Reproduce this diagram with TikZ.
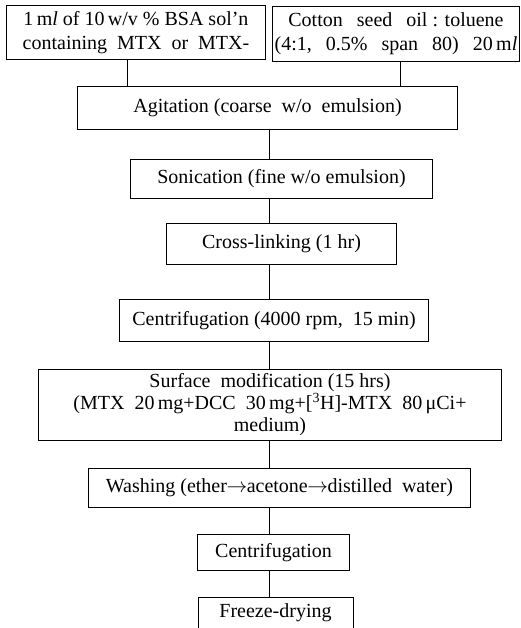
\documentclass[tikz,border=0pt]{standalone}
\usepackage{fontspec}
\setmainfont{Liberation Serif}
\newcommand\wsp{\hspace{0.5em}}
\newcommand\wwsp{\hspace{0.7em}}
\newcommand\rarr{\kern-0.5pt$\rightarrow$\kern-0.5pt}
\begin{document}
\begin{tikzpicture}[x=1pt,y=-1pt,
  box/.style={draw, line width=1pt, inner sep=0pt, align=center, anchor=north west,
    font=\fontsize{20}{24}\selectfont},
  openbox/.style={box, draw=none},
  link/.style={line width=0.9pt}]
\useasboundingbox (0,0) rectangle (521,628);
\node[box, minimum width=259pt, minimum height=54pt] (bsa) at (6,5)
  {1\,m\textit{l} of 10\,w/v \% BSA sol’n\\containing\wsp MTX\wsp or\wsp MTX-};
\node[box, minimum width=247pt, minimum height=55pt] (oil) at (272,6)
  {Cotton\wwsp seed\wwsp oil : toluene\\(4:1,\wwsp0.5\%\wwsp span\wwsp80)\wwsp20\,m\textit{l}};
\node[box, minimum width=380pt, minimum height=43pt] (agit) at (77,86)
  {Agitation (coarse\wsp w/o\wsp emulsion)};
\node[box, minimum width=302pt, minimum height=39pt] (soni) at (130,159)
  {Sonication (fine w/o emulsion)};
\node[box, minimum width=230pt, minimum height=41pt] (cross) at (166,223)
  {Cross-linking (1 hr)};
\node[box, minimum width=309pt, minimum height=42pt] (cent) at (119,299)
  {Centrifugation (4000 rpm,\wsp15 min)};
\node[box, minimum width=463pt, minimum height=71pt, font=\fontsize{20}{22}\selectfont] (surf) at (38,369)
  {Surface\wsp modification (15 hrs)\\(MTX\wsp20\,mg+DCC\wsp30\,mg+[\textsuperscript{3}H]-MTX\wsp80\,μCi+\\medium)};
\node[box, minimum width=382pt, minimum height=39pt] (wash) at (88,468)
  {Washing (ether\rarr acetone\rarr distilled\wsp water)};
\node[box, minimum width=152pt, minimum height=36pt] (cent2) at (197,534)
  {Centrifugation};
\node[openbox, minimum width=154pt, minimum height=31pt, anchor=north west] (frz) at (198,597)
  {Freeze-drying};
\draw[line width=1pt] (frz.south west) -- (frz.north west) -- (frz.north east) -- (frz.south east);
\coordinate (ax) at (127,0);
\coordinate (bx) at (400,0);
\coordinate (tx) at (269,0);
\draw[link] (bsa.south -| ax) -- (agit.north -| ax);
\draw[link] (oil.south -| bx) -- (agit.north -| bx);
\draw[link] (agit.south -| tx) -- (soni.north -| tx);
\draw[link] (soni.south -| tx) -- (cross.north -| tx);
\draw[link] (cross.south -| tx) -- (cent.north -| tx);
\draw[link] (cent.south -| tx) -- (surf.north -| tx);
\draw[link] (surf.south -| tx) -- (wash.north -| tx);
\draw[link] (wash.south -| tx) -- (cent2.north -| tx);
\draw[link] (cent2.south -| tx) -- (frz.north -| tx);
\end{tikzpicture}
\end{document}
